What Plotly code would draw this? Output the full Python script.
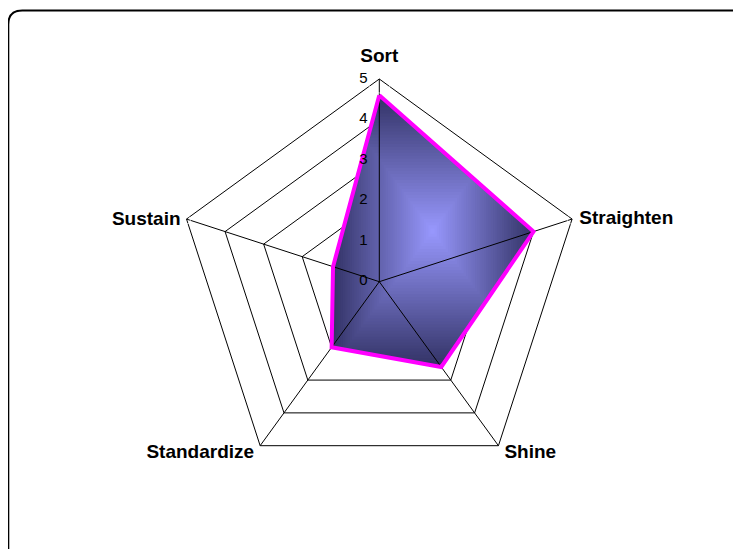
import numpy as np
import plotly.graph_objects as go

categories = ["Sort", "Straighten", "Shine", "Standardize", "Sustain"]
scores = [4.6, 4.0, 2.6, 2.0, 1.2]
radial_ticks = [0, 1, 2, 3, 4, 5]

# styling for category labels (placement relative to outer vertex)
label_positions = ["top center", "middle right", "middle right", "middle left", "middle left"]
label_gap_sizes = [22, 10, 8, 8, 8]
label_shift_px = [(0, 3), (0, 0), (0, 8), (0, 8), (0, 1)]  # (right, down) in pixels
tick_gap_size = 17

W, H = 741, 549
OFF = 8  # page body margin offset
FILL_CENTER = np.array([153, 153, 255])
FILL_EDGE = np.array([51, 51, 102])
OUTLINE = "#ff00ff"
FONT = "Liberation Sans, Arial, sans-serif"

cxp, cyp, R = 379.3 - OFF, 281.7 - OFF, 202.7
rmax = max(radial_ticks)
LAB_K = 1.12  # label overlay is a bit larger so labels outside the ring are kept

# ---- gradient layers (Excel "from center" rectangular gradient) ----
n = len(categories)
step = 360.0 / n
th = np.radians([i * step for i in range(n)])
px_ = np.array(scores) * np.sin(th)
py_ = np.array(scores) * np.cos(th)
poly = list(zip(px_, py_))
x0, x1, y0, y1 = px_.min(), px_.max(), py_.min(), py_.max()
cx, cy = (x0 + x1) / 2, (y0 + y1) / 2
hw, hh = (x1 - x0) / 2, (y1 - y0) / 2


def clip(polygon, edge_fn, inter_fn):
    out = []
    for i in range(len(polygon)):
        cur = polygon[i]
        prev = polygon[i - 1]
        cin, pin = edge_fn(cur), edge_fn(prev)
        if cin:
            if not pin:
                out.append(inter_fn(prev, cur))
            out.append(cur)
        elif pin:
            out.append(inter_fn(prev, cur))
    return out


def clip_rect(polygon, xa, xb, ya, yb):
    def ix(p, q, xv):
        t = (xv - p[0]) / (q[0] - p[0])
        return (xv, p[1] + t * (q[1] - p[1]))

    def iy(p, q, yv):
        t = (yv - p[1]) / (q[1] - p[1])
        return (p[0] + t * (q[0] - p[0]), yv)

    pg = clip(polygon, lambda p: p[0] >= xa, lambda p, q: ix(p, q, xa))
    if pg:
        pg = clip(pg, lambda p: p[0] <= xb, lambda p, q: ix(p, q, xb))
    if pg:
        pg = clip(pg, lambda p: p[1] >= ya, lambda p, q: iy(p, q, ya))
    if pg:
        pg = clip(pg, lambda p: p[1] <= yb, lambda p, q: iy(p, q, yb))
    return pg


fig = go.Figure()

# base polar (pentagon grid, outer line) needs a trace
fig.add_trace(go.Scatterpolar(r=scores, theta=categories, mode="none",
                              hoverinfo="skip", showlegend=False, subplot="polar"))

levels = np.linspace(1.0, 0.02, 45)
for s in levels:
    pg = clip_rect(poly, cx - s * hw, cx + s * hw, cy - s * hh, cy + s * hh)
    if len(pg) < 3:
        continue
    pg = pg + [pg[0]]
    rr = [float(np.hypot(x, y)) for x, y in pg]
    tt = [float(np.degrees(np.arctan2(x, y))) for x, y in pg]
    c = FILL_CENTER + (FILL_EDGE - FILL_CENTER) * s
    col = "rgb(%d,%d,%d)" % tuple(int(round(v)) for v in c)
    fig.add_trace(go.Scatterpolar(r=rr, theta=tt, mode="lines", fill="toself",
                                  fillcolor=col, line=dict(width=0, color=col),
                                  hoverinfo="skip", showlegend=False, subplot="polar2"))

fig.add_trace(go.Scatterpolar(r=scores + [scores[0]], theta=categories + [categories[0]],
                              mode="lines", line=dict(color=OUTLINE, width=4),
                              hoverinfo="skip", showlegend=False, subplot="polar3"))

# radial value labels along the first spoke (tiny epsilon keeps the "0" anchor drawable)
fig.add_trace(go.Scatterpolar(r=[v + 1e-6 for v in radial_ticks],
                              theta=[0.0] * len(radial_ticks),
                              mode="markers+text", text=[str(v) for v in radial_ticks],
                              textposition="middle left",
                              marker=dict(size=tick_gap_size, color="rgba(0,0,0,0)"),
                              textfont=dict(family=FONT, size=15, color="black"),
                              cliponaxis=False, hoverinfo="skip", showlegend=False,
                              subplot="polar4"))

# category labels around the outer ring (numeric-angle overlay)
u = rmax / R
lab_r, lab_t = [], []
for i in range(n):
    lx = rmax * np.sin(th[i]) + label_shift_px[i][0] * u
    ly = rmax * np.cos(th[i]) - label_shift_px[i][1] * u
    lab_r.append(float(np.hypot(lx, ly)))
    lab_t.append(float(np.degrees(np.arctan2(lx, ly))))
fig.add_trace(go.Scatterpolar(r=lab_r, theta=lab_t, mode="markers+text",
                              text=categories, textposition=label_positions,
                              marker=dict(size=label_gap_sizes, color="rgba(0,0,0,0)"),
                              textfont=dict(family=FONT, size=19, color="black", weight="bold"),
                              cliponaxis=False, hoverinfo="skip", showlegend=False,
                              subplot="polar4"))

dom = dict(x=[(cxp - R) / W, (cxp + R) / W], y=[1 - (cyp + R) / H, 1 - (cyp - R) / H])
R4 = R * LAB_K
dom4 = dict(x=[(cxp - R4) / W, (cxp + R4) / W], y=[1 - (cyp + R4) / H, 1 - (cyp - R4) / H])

hidden_num_polar = lambda d, rng: dict(
    domain=d, bgcolor="rgba(0,0,0,0)",
    angularaxis=dict(type="linear", thetaunit="degrees", rotation=90, direction="clockwise",
                     showgrid=False, showline=False, showticklabels=False, ticks=""),
    radialaxis=dict(range=rng, showgrid=False, showline=False, showticklabels=False, ticks=""),
)

fig.update_layout(
    width=W, height=H, margin=dict(l=0, r=0, t=0, b=0),
    paper_bgcolor="white", plot_bgcolor="white", showlegend=False,
    polar=dict(
        domain=dom, bgcolor="rgba(0,0,0,0)", gridshape="linear",
        angularaxis=dict(type="category", rotation=90, direction="clockwise",
                         showgrid=False, showline=True, linecolor="black", linewidth=1,
                         showticklabels=False, ticks=""),
        radialaxis=dict(range=[0, rmax], tickvals=radial_ticks, showgrid=True, gridcolor="black",
                        gridwidth=1, showline=False, showticklabels=False, ticks=""),
    ),
    polar2=hidden_num_polar(dom, [0, rmax]),
    polar3=dict(
        domain=dom, bgcolor="rgba(0,0,0,0)", gridshape="linear",
        angularaxis=dict(type="category", rotation=90, direction="clockwise",
                         showgrid=True, gridcolor="black", gridwidth=1,
                         showline=False, showticklabels=False, ticks=""),
        radialaxis=dict(range=[0, rmax], showgrid=False, showline=False,
                        showticklabels=False, ticks=""),
    ),
    polar4=hidden_num_polar(dom4, [0, rmax * LAB_K]),
)

# chart-area border (rounded rectangle, bottom/right beyond view)
def X(p):
    return p / W

def Y(p):
    return 1 - p / H

bl, bt, rad = 0.3, 10.5 - OFF, 14
path = ("M %f,%f L %f,%f Q %f,%f %f,%f L %f,%f" % (
    X(bl), Y(600), X(bl), Y(bt + rad), X(bl), Y(bt), X(bl + rad), Y(bt), X(800), Y(bt)))
fig.add_shape(type="path", path=path, xref="paper", yref="paper",
              line=dict(color="black", width=2))

fig.write_html("out.html")
